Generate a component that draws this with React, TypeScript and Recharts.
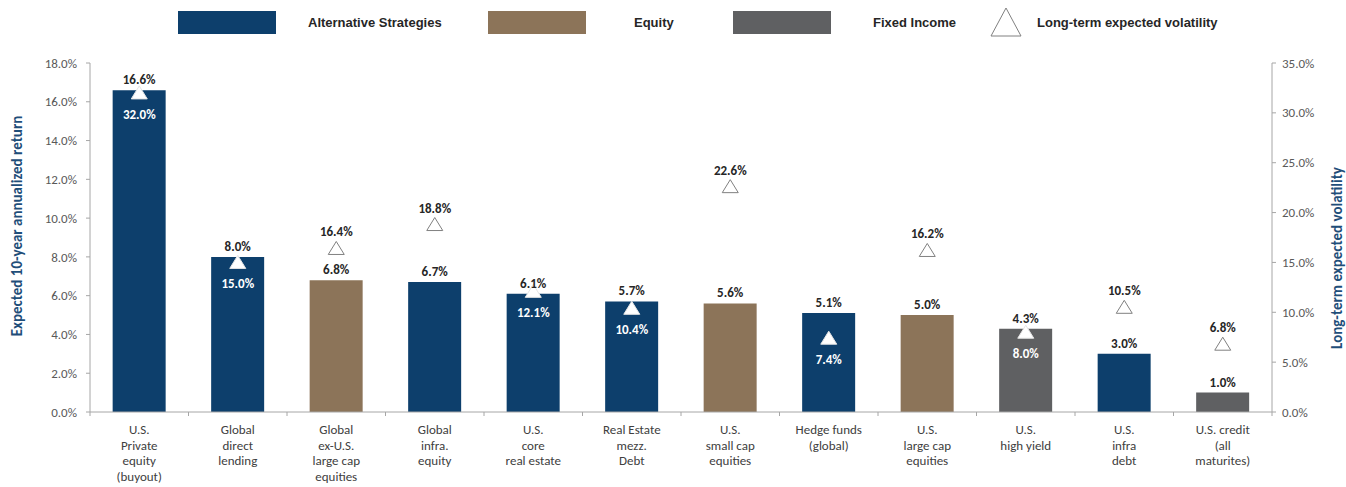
import React from "react";
import {
  ComposedChart,
  Bar,
  Line,
  Cell,
  XAxis,
  YAxis,
  LabelList,
} from "recharts";

const categories = [
  "U.S.\nPrivate\nequity\n(buyout)",
  "Global\ndirect\nlending",
  "Global\nex-U.S.\nlarge cap\nequities",
  "Global\ninfra.\nequity",
  "U.S.\ncore\nreal estate",
  "Real Estate\nmezz.\nDebt",
  "U.S.\nsmall cap\nequities",
  "Hedge funds\n(global)",
  "U.S.\nlarge cap\nequities",
  "U.S.\nhigh yield",
  "U.S.\ninfra\ndebt",
  "U.S. credit\n(all\nmaturites)",
];

const expectedReturn = [16.6, 8.0, 6.8, 6.7, 6.1, 5.7, 5.6, 5.1, 5.0, 4.3, 3.0, 1.0];
const volatility = [32.0, 15.0, 16.4, 18.8, 12.1, 10.4, 22.6, 7.4, 16.2, 8.0, 10.5, 6.8];
const assetClass = ["alt", "alt", "eq", "alt", "alt", "alt", "eq", "alt", "eq", "fi", "alt", "fi"];

const leftTicks = [0, 2, 4, 6, 8, 10, 12, 14, 16, 18];
const rightTicks = [0, 5, 10, 15, 20, 25, 30, 35];

const COLORS: Record<string, string> = {
  alt: "#0D3F6C",
  eq: "#8C7459",
  fi: "#5F6062",
};

const data = categories.map((name, i) => ({
  name,
  ret: expectedReturn[i],
  vol: volatility[i],
  cls: assetClass[i],
}));

const FONT = "Carlito, Lato, 'Liberation Sans', sans-serif";
const LEGEND_FONT = "'Liberation Sans Narrow', 'Liberation Sans', Arial, sans-serif";
const BAND = (1272 - 90) / categories.length;

const CategoryTick = (props: any) => {
  const { x, y, payload, index } = props;
  const lines = String(payload.value).split("\n");
  return (
    <g>
      <line x1={x - BAND / 2} x2={x - BAND / 2} y1={y - 8} y2={y - 4} stroke="#A6A6A6" />
      {index === categories.length - 1 && (
        <line x1={x + BAND / 2} x2={x + BAND / 2} y1={y - 8} y2={y - 4} stroke="#A6A6A6" />
      )}
      {lines.map((l, i) => (
        <text
          key={i}
          x={x}
          y={y + 14 + i * 15.5}
          textAnchor="middle"
          fontSize={13}
          fontFamily={FONT}
          fill="#404040"
        >
          {l}
        </text>
      ))}
    </g>
  );
};

const ReturnLabel = (props: any) => {
  const { x, y, width, value } = props;
  return (
    <text
      x={x + width / 2}
      y={y - 6}
      textAnchor="middle"
      fontSize={13}
      fontWeight="bold"
      fontFamily={FONT}
      fill="#262626"
    >
      {Number(value).toFixed(1)}%
    </text>
  );
};

const VolDot = (props: any) => {
  const { cx, cy, payload } = props;
  if (cx == null || cy == null) return <g />;
  const inside = (payload.vol * 18) / 35 <= payload.ret + 0.3;
  return (
    <g>
      <polygon
        points={`${cx},${cy - 7} ${cx - 8},${cy + 6} ${cx + 8},${cy + 6}`}
        fill="#FFFFFF"
        stroke={inside ? "#E6E6E6" : "#808080"}
        strokeWidth={1}
      />
      <text
        x={cx}
        y={inside ? cy + 26 : cy - 12}
        textAnchor="middle"
        fontSize={13}
        fontWeight="bold"
        fontFamily={FONT}
        fill={inside ? "#FFFFFF" : "#262626"}
      >
        {payload.vol.toFixed(1)}%
      </text>
    </g>
  );
};

const Legend = () => (
  <svg width={1346} height={45} style={{ position: "absolute", left: 0, top: 0 }}>
    <rect x={178} y={11} width={98} height={23} fill={COLORS.alt} />
    <text x={308} y={27} fontSize={13} fontWeight="bold" fontFamily={LEGEND_FONT} fill="#262626">
      Alternative Strategies
    </text>
    <rect x={488} y={11} width={98} height={23} fill={COLORS.eq} />
    <text x={634} y={27} fontSize={13} fontWeight="bold" fontFamily={LEGEND_FONT} fill="#262626">
      Equity
    </text>
    <rect x={733} y={11} width={98} height={23} fill={COLORS.fi} />
    <text x={873} y={27} fontSize={13} fontWeight="bold" fontFamily={LEGEND_FONT} fill="#262626">
      Fixed Income
    </text>
    <polygon points="1006,8 991,36 1021,36" fill="#FFFFFF" stroke="#808080" strokeWidth={1} />
    <text x={1037} y={27} fontSize={13} fontWeight="bold" fontFamily={LEGEND_FONT} fill="#262626">
      Long-term expected volatility
    </text>
  </svg>
);

export default function App() {
  return (
    <div
      style={{
        position: "absolute",
        left: 0,
        top: 0,
        width: 1346,
        height: 487,
        background: "#FFFFFF",
        fontFamily: FONT,
      }}
    >
      <Legend />
      <ComposedChart
        width={1346}
        height={487}
        data={data}
        margin={{ top: 63, right: 0, bottom: 5, left: 0 }}
        barCategoryGap="23%"
      >
        <XAxis
          dataKey="name"
          interval={0}
          tickLine={false}
          axisLine={{ stroke: "#A6A6A6" }}
          height={70}
          tick={<CategoryTick />}
        />
        <YAxis
          yAxisId="left"
          orientation="left"
          width={90}
          domain={[0, 18]}
          ticks={leftTicks}
          tickFormatter={(v: number) => `${v.toFixed(1)}%`}
          tick={{ fontSize: 13, fill: "#595959", fontFamily: FONT }}
          tickSize={4}
          tickMargin={9}
          axisLine={{ stroke: "#A6A6A6" }}
          tickLine={{ stroke: "#A6A6A6" }}
        />
        <YAxis
          yAxisId="right"
          orientation="right"
          width={74}
          domain={[0, 35]}
          ticks={rightTicks}
          tickFormatter={(v: number) => `${v.toFixed(1)}%`}
          tick={{ fontSize: 13, fill: "#595959", fontFamily: FONT, textAnchor: "start" }}
          tickSize={4}
          tickMargin={6}
          axisLine={{ stroke: "#A6A6A6" }}
          tickLine={{ stroke: "#A6A6A6" }}
        />
        <Bar yAxisId="left" dataKey="ret" isAnimationActive={false}>
          {data.map((d, i) => (
            <Cell key={`c-${i}`} fill={COLORS[d.cls]} />
          ))}
          <LabelList dataKey="ret" content={<ReturnLabel />} />
        </Bar>
        <Line
          yAxisId="right"
          dataKey="vol"
          stroke="none"
          isAnimationActive={false}
          dot={<VolDot />}
          activeDot={false}
        />
      </ComposedChart>
      <div
        style={{
          position: "absolute",
          left: 17,
          top: 226,
          transform: "translate(-50%, -50%) rotate(-90deg)",
          whiteSpace: "nowrap",
          fontSize: 15,
          fontWeight: "bold",
          color: "#1F4E79",
          fontFamily: FONT,
        }}
      >
        Expected 10-year annualized return
      </div>
      <div
        style={{
          position: "absolute",
          left: 1337,
          top: 258,
          transform: "translate(-50%, -50%) rotate(-90deg)",
          whiteSpace: "nowrap",
          fontSize: 15,
          fontWeight: "bold",
          color: "#1F4E79",
          fontFamily: FONT,
        }}
      >
        Long-term expected volatility
      </div>
    </div>
  );
}
